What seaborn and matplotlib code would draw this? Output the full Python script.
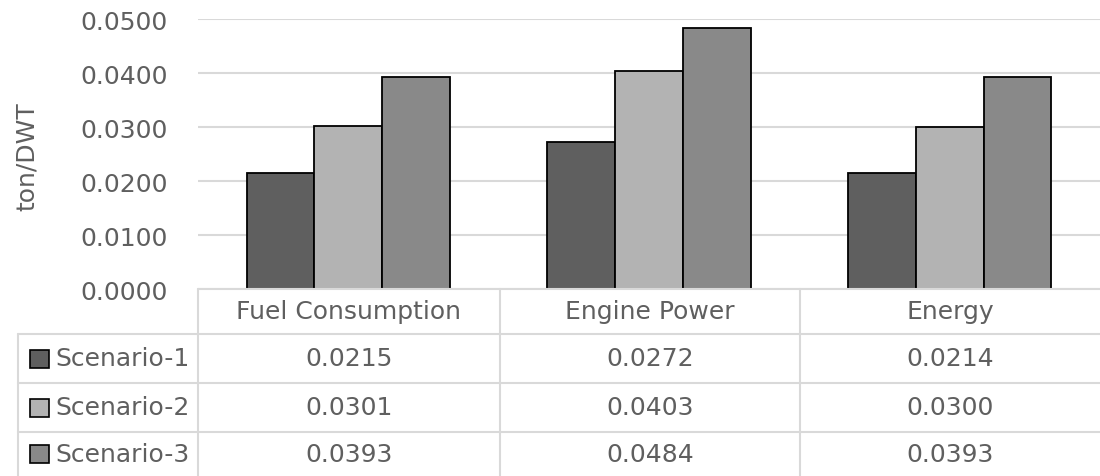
import matplotlib
matplotlib.use("Agg")
import matplotlib.pyplot as plt
import seaborn as sns
import pandas as pd

# data
categories = ["Fuel Consumption", "Engine Power", "Energy"]
scenarios = ["Scenario-1", "Scenario-2", "Scenario-3"]
scenario_1 = [0.0215, 0.0272, 0.0214]
scenario_2 = [0.0301, 0.0403, 0.0300]
scenario_3 = [0.0393, 0.0484, 0.0393]
y_ticks = [0.0, 0.01, 0.02, 0.03, 0.04, 0.05]

colors = ["#5f5f5f", "#b3b3b3", "#898989"]
text_color = "#5f5f5f"
grid_color = "#d9d9d9"
fs = 18

rows = []
for name, vals in zip(scenarios, [scenario_1, scenario_2, scenario_3]):
    for cat, v in zip(categories, vals):
        rows.append({"category": cat, "scenario": name, "value": v})
df = pd.DataFrame(rows)

sns.set_style("white")
plt.rcParams["font.family"] = ["DejaVu Sans"]

W, H = 1100, 477
fig = plt.figure(figsize=(W / 100, H / 100), dpi=100)

# plot area in pixels
x0, x1 = 198, 1100
y_top, y_zero = 20, 290
ax = fig.add_axes([x0 / W, 1 - y_zero / H, (x1 - x0) / W, (y_zero - y_top) / H])

sns.barplot(data=df, x="category", y="value", hue="scenario", order=categories,
            hue_order=scenarios, palette=colors, width=0.676, edgecolor="black",
            linewidth=1.3, saturation=1, ax=ax, legend=False, zorder=3)

ax.set_xlim(-0.5, len(categories) - 0.5)
ax.set_ylim(0, 0.05)
ax.set_yticks(y_ticks)
ax.set_yticklabels([f"{t:.4f}" for t in y_ticks], color=text_color, fontsize=fs)
ax.tick_params(axis="y", length=0, pad=22)
ax.set_xticks([])
ax.set_xlabel("")
ax.set_ylabel("ton/DWT", color=text_color, fontsize=fs)
ax.yaxis.set_label_coords((27 - x0) / (x1 - x0), 1 - (157 - y_top) / (y_zero - y_top))
ax.yaxis.label.set_va("center")
ax.grid(axis="y", color=grid_color, linewidth=1.5, zorder=0)
for s in ax.spines.values():
    s.set_visible(False)

# data table below the plot area
def fx(px):
    return px / W

def fy(py):
    return 1 - py / H

lw = 1.5
col_edges = [198, 500, 800, 1100]
row_edges = [290, 335, 384, 433, 477]

fig.add_artist(plt.Line2D([fx(198), fx(1100)], [fy(290), fy(290)], color=grid_color, lw=lw))
for r in row_edges[1:-1]:
    fig.add_artist(plt.Line2D([fx(18), fx(1100)], [fy(r), fy(r)], color=grid_color, lw=lw))
for c in col_edges[:-1]:
    fig.add_artist(plt.Line2D([fx(c), fx(c)], [fy(290), fy(477)], color=grid_color, lw=lw))
fig.add_artist(plt.Line2D([fx(18), fx(18)], [fy(335), fy(477)], color=grid_color, lw=lw))

for i, cat in enumerate(categories):
    cx = (col_edges[i] + col_edges[i + 1]) / 2
    fig.text(fx(cx), fy((row_edges[0] + row_edges[1]) / 2), cat, ha="center",
             va="center", color=text_color, fontsize=fs)

for j, (name, vals) in enumerate(zip(scenarios, [scenario_1, scenario_2, scenario_3])):
    cy = (row_edges[j + 1] + row_edges[j + 2]) / 2
    fig.add_artist(plt.Rectangle((fx(30), fy(cy + 9)), 19 / W, 18 / H, facecolor=colors[j],
                                 edgecolor="black", lw=1.2))
    fig.text(fx(55), fy(cy), name, ha="left", va="center", color=text_color, fontsize=fs)
    for i, v in enumerate(vals):
        cx = (col_edges[i] + col_edges[i + 1]) / 2
        fig.text(fx(cx), fy(cy), f"{v:.4f}", ha="center", va="center",
                 color=text_color, fontsize=fs)

fig.savefig("out.png", dpi=100)
plt.close(fig)
